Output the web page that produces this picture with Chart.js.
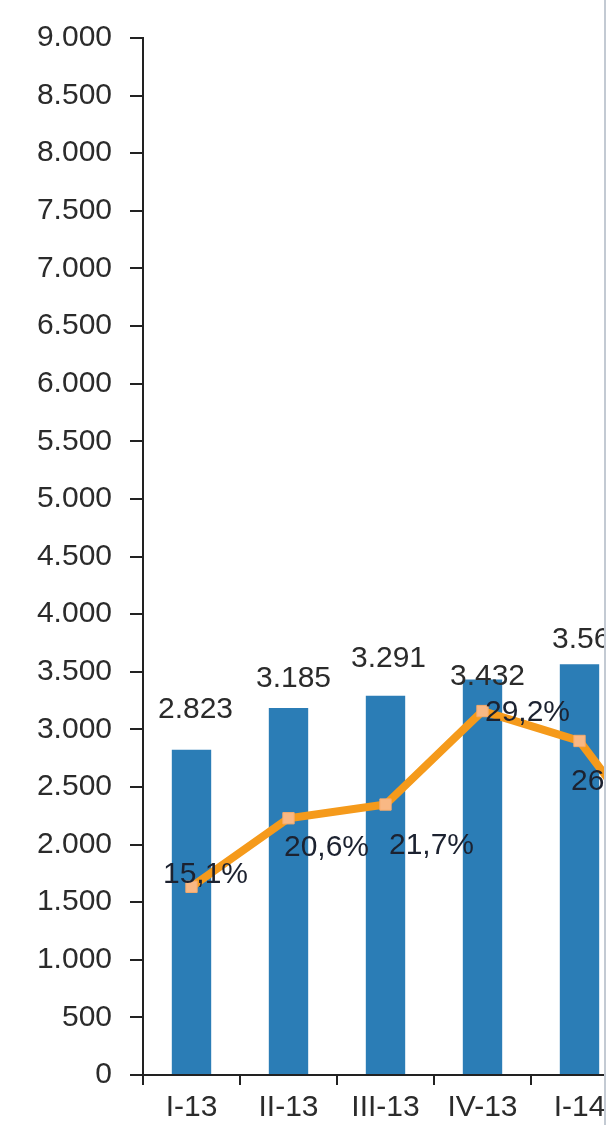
<!DOCTYPE html>
<html><head><meta charset="utf-8">
<script src="https://cdn.jsdelivr.net/npm/chart.js@4.4.1/dist/chart.umd.min.js"></script>
<style>
html,body{margin:0;padding:0;width:606px;height:1125px;overflow:hidden;background:#fff;}
#wrap{position:absolute;left:0;top:0;width:734px;height:1125px;}
#edge{position:absolute;left:604px;top:0;width:2px;height:1125px;background:#c3cad3;}
</style></head><body>
<div id="wrap"><canvas id="c"></canvas></div>
<div id="edge"></div>
<script>
// ---- data ----
const categories = ['I-13', 'II-13', 'III-13', 'IV-13', 'I-14', 'II-14'];
const volumes    = [2823, 3185, 3291, 3432, 3565, null];
const growthPct  = [15.1, 20.6, 21.7, 29.2, 26.8, 16.5];
const yAxisMin = 0, yAxisMax = 9000, yAxisStep = 500;
const pctAxisMax = 83.2;

const FONT = '"Liberation Sans", Arial, sans-serif';
const fmtInt = v => String(Math.round(v)).replace(/\B(?=(\d{3})+(?!\d))/g, '.');
const fmtPct = v => v.toFixed(1).replace('.', ',') + '%';

const valueLabels = {
  id: 'valueLabels',
  afterDatasetsDraw(chart, args, opts) {
    const ctx = chart.ctx;
    ctx.save();
    ctx.font = '30px ' + FONT;
    ctx.textAlign = 'center';
    ctx.textBaseline = 'middle';
    chart.getDatasetMeta(0).data.forEach((el, i) => {
      const v = chart.data.datasets[0].data[i];
      if (v == null) return;
      const o = opts.barOffsets[i] || [0, -30];
      ctx.fillStyle = '#2b2b2b';
      ctx.fillText(fmtInt(v), el.x + o[0], el.y + o[1]);
    });
    chart.getDatasetMeta(1).data.forEach((el, i) => {
      const v = chart.data.datasets[1].data[i];
      if (v == null) return;
      const o = opts.lineOffsets[i] || [30, 30];
      ctx.fillStyle = '#1c2230';
      ctx.fillText(fmtPct(v), el.x + o[0], el.y + o[1]);
    });
    ctx.restore();
  }
};

new Chart(document.getElementById('c'), {
  type: 'bar',
  data: {
    labels: categories,
    datasets: [
      {
        type: 'bar', label: 'Volume', data: volumes, yAxisID: 'y',
        backgroundColor: '#2b7db6', barPercentage: 0.406, categoryPercentage: 1, order: 2
      },
      {
        type: 'line', label: 'Growth', data: growthPct, yAxisID: 'y1',
        borderColor: '#f59a1b', borderWidth: 8, tension: 0,
        pointStyle: 'rect', pointRadius: 8, pointBackgroundColor: '#f9b884',
        pointBorderColor: '#f7ab6a', pointBorderWidth: 1, order: 1
      }
    ]
  },
  options: {
    responsive: true, maintainAspectRatio: false, animation: false,
    layout: { padding: { top: 38, left: 0, right: 0, bottom: 0 } },
    plugins: {
      legend: { display: false }, tooltip: { enabled: false },
      valueLabels: {
        barOffsets: [[4, -40], [5, -29], [3, -37], [5, -3], [10, -24]],
        lineOffsets: [[14, -12], [38, 29], [46, 41], [45, 2], [34, 41], [34, 30]]
      }
    },
    scales: {
      x: {
        grid: { display: true, drawOnChartArea: false, drawTicks: true, tickLength: 10, color: '#222', lineWidth: 2, offset: true },
        border: { display: true, color: '#222', width: 2 },
        ticks: { font: { size: 30, family: FONT }, color: '#2b2b2b', padding: 5, maxRotation: 0, autoSkip: false },
        afterFit(s) { s.height = 50; }
      },
      y: {
        min: yAxisMin, max: yAxisMax,
        ticks: { stepSize: yAxisStep, callback: v => fmtInt(v), font: { size: 30, family: FONT }, color: '#2b2b2b', padding: 18 },
        grid: { display: true, drawOnChartArea: false, drawTicks: true, tickLength: 13, color: '#222', lineWidth: 2 },
        border: { display: true, color: '#222', width: 2 },
        afterFit(s) { s.width = 143; }
      },
      y1: { display: false, min: 0, max: pctAxisMax }
    }
  },
  plugins: [valueLabels]
});
</script>
</body></html>
